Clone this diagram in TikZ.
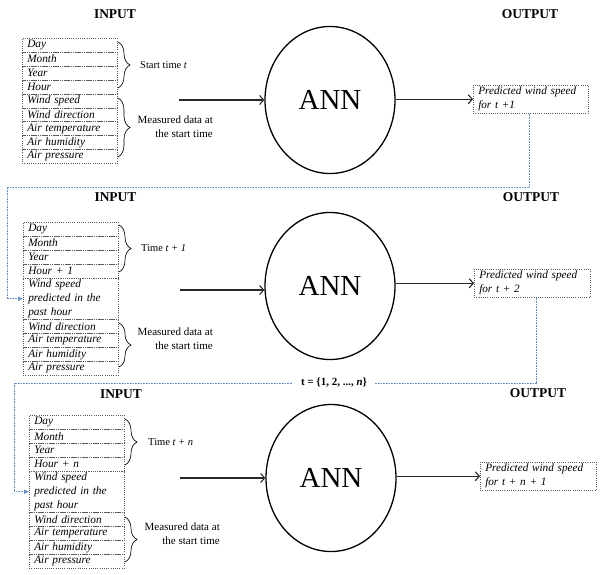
\documentclass[tikz,border=0pt]{standalone}
\usepackage{fontspec}
\setmainfont{Liberation Serif}
\usetikzlibrary{shapes.geometric,arrows.meta,decorations.pathreplacing,calc}
\definecolor{fbc}{RGB}{96,140,196}
\definecolor{boxc}{RGB}{90,90,90}
\definecolor{arrc}{RGB}{40,40,40}
\begin{document}
\begin{tikzpicture}[x=1pt,y=-1pt,
  cell/.style={draw=boxc, dash pattern=on 1pt off 1.2pt, line width=0.55pt, rectangle, anchor=north west,
    minimum width=95pt, minimum height=13.9pt, inner xsep=5pt, inner ysep=0pt,
    text width=85pt, align=left, font=\fontsize{11.3}{13.9}\selectfont\itshape},
  outbox/.style={draw=boxc, dash pattern=on 1pt off 1.2pt, line width=0.55pt, rectangle, anchor=north west,
    minimum height=28pt, inner xsep=5pt, inner ysep=0pt, align=left,
    font=\fontsize{11.2}{14}\selectfont\itshape},
  ann/.style={draw, ellipse, line width=1.3pt, minimum width=130pt, minimum height=147pt,
    inner sep=0pt, font=\fontsize{29}{29}\selectfont},
  head/.style={font=\fontsize{13.5}{14}\selectfont\bfseries, inner sep=0pt},
  lab/.style={font=\fontsize{11}{14}\selectfont, inner sep=0pt},
  slab/.style={font=\fontsize{10.5}{12}\selectfont, inner sep=0pt},
  br/.style={decorate, decoration={brace, amplitude=12pt}, line width=0.65pt},
  arr/.style={draw=arrc, line width=1.1pt, -{Straight Barb[length=4pt,width=9pt]}},
  fb/.style={draw=fbc, line width=0.6pt, dash pattern=on 0.8pt off 0.8pt,
    -{Latex[length=5pt,width=4.5pt,fill=fbc]}}
]
\useasboundingbox (0,0) rectangle (609,574);

% ---------------- Panel 1 ----------------
\node[head] (in1lab) at (115,14) {INPUT};
\node[head] (out1lab) at (530,14) {OUTPUT};
\foreach \t [count=\i] in {Day,Month,Year,Hour,Wind speed,Wind direction,Air temperature,Air humidity,Air pressure}
  \node[cell] (a\i) at (22,{38+(\i-1)*13.9}) {\t};
\draw[br] (118,42) -- (118,88);
\node[slab, anchor=west] (st1) at (140,65) {Start time \textit{t}};
\draw[br] (118,98) -- (118,157);
\node[lab, anchor=east, align=right] (md1) at (213,127) {Measured data at\\the start time};
\node[ann] (ann1) at (330,100) {ANN};
\coordinate (i1) at (179,100);
\draw[arr] (i1) -- (i1 -| ann1.west);
\node[outbox, minimum width=115pt, text width=105pt] (out1) at (473,85) {Predicted wind speed\\for t +1};
\draw[arr] (ann1.east |- out1.west) -- (out1.west);

% ---------------- Panel 2 ----------------
\node[head] (in2lab) at (115.5,197) {INPUT};
\node[head] (out2lab) at (531,197) {OUTPUT};
\foreach \t [count=\i] in {Day,Month,Year,Hour + 1}
  \node[cell] (b\i) at (23,{222+(\i-1)*13.9}) {\t};
\node[cell, minimum height=41.7pt] (bws) at (23,277.6) {Wind speed\\predicted in the\\past hour};
\foreach \t [count=\i] in {Wind direction,Air temperature,Air humidity,Air pressure}
  \node[cell] (bm\i) at (23,{319.3+(\i-1)*13.9}) {\t};
\draw[br] (119,225) -- (119,272);
\node[slab, anchor=west] (st2) at (141,248) {Time \textit{t + 1}};
\draw[br] (119,323) -- (119,367);
\node[lab, anchor=east, align=right] (md2) at (213,339) {Measured data at\\the start time};
\node[ann] (ann2) at (330,286) {ANN};
\coordinate (i2) at (180,290);
\draw[arr] (i2) -- (i2 -| ann2.west);
\node[outbox, minimum width=116pt, text width=106pt] (out2) at (474,269) {Predicted wind speed\\for t + 2};
\draw[arr] (ann2.east |- out2.west) -- (out2.west);

% ---------------- Panel 3 ----------------
\node[head] (in3lab) at (121,394) {INPUT};
\node[head] (out3lab) at (538,393) {OUTPUT};
\foreach \t [count=\i] in {Day,Month,Year,Hour + n}
  \node[cell] (c\i) at (29,{415+(\i-1)*13.9}) {\t};
\node[cell, minimum height=41.7pt] (cws) at (29,470.6) {Wind speed\\predicted in the\\past hour};
\foreach \t [count=\i] in {Wind direction,Air temperature,Air humidity,Air pressure}
  \node[cell] (cm\i) at (29,{512.3+(\i-1)*13.9}) {\t};
\draw[br] (125,419) -- (125,465);
\node[slab, anchor=west] (st3) at (148,442) {Time \textit{t + n}};
\draw[br] (125,517) -- (125,562);
\node[lab, anchor=east, align=right] (md3) at (220,534) {Measured data at\\the start time};
\node[ann] (ann3) at (331,478) {ANN};
\coordinate (i3) at (180,478);
\draw[arr] (i3) -- (i3 -| ann3.west);
\node[outbox, minimum width=116pt, text width=106pt] (out3) at (480,462) {Predicted wind speed\\for t + n + 1};
\draw[arr] (ann3.east |- out3.west) -- (out3.west);

% ---------------- Feedback lines ----------------
\coordinate (f1) at (7,187);
\draw[fb] ([xshift=-1.5pt]out1.south) |- (f1) |- (bws.west);
\coordinate (f2) at (14,383);
\draw[fb] ([xshift=4pt]out2.south) |- (f2) |- (cws.west);
\node[font=\fontsize{11}{13}\selectfont\bfseries, fill=white, inner xsep=8pt, inner ysep=2pt] (tset) at (334,383) {t = \{1, 2, ..., \textit{n}\}};
\end{tikzpicture}
\end{document}
